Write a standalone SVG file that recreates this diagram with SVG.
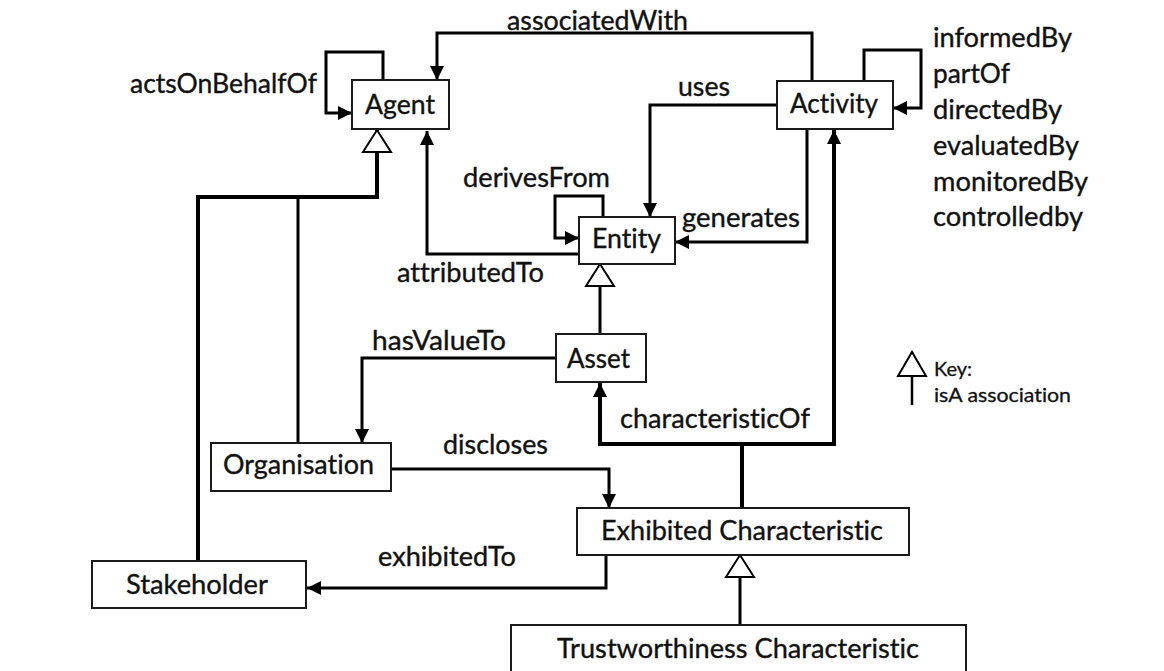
<svg xmlns="http://www.w3.org/2000/svg" width="1164" height="671" viewBox="0 0 1164 671">
<style>
  .box { fill: #ffffff; stroke: #1a1a1a; stroke-width: 2; }
  .t { font-family: "Lato", "Liberation Sans", sans-serif; font-size: 26px; fill: #111111; stroke: #111111; stroke-width: 0.35; font-variant-ligatures: none; }
  .k { font-family: "Lato", "Liberation Sans", sans-serif; font-size: 20px; fill: #111111; stroke: #111111; stroke-width: 0.3; font-variant-ligatures: none; }
  .c { fill: none; stroke: #000000; stroke-width: 3; stroke-linejoin: miter; }
  .thick { stroke-width: 4; }
  .arrow { marker-end: url(#ah); }
  .isa { marker-end: url(#tri); }
</style>
<defs>
  <marker id="ah" markerUnits="userSpaceOnUse" markerWidth="16" markerHeight="16" refX="14" refY="7" orient="auto">
    <path d="M0,0 L14,7 L0,14 z" fill="#000000"/>
  </marker>
  <marker id="tri" markerUnits="userSpaceOnUse" markerWidth="26" markerHeight="32" refX="22" refY="14" orient="auto" overflow="visible">
    <path d="M0,0 L22,14 L0,28 z" fill="#ffffff" stroke="#000000" stroke-width="2"/>
  </marker>
  <marker id="trik" markerUnits="userSpaceOnUse" markerWidth="26" markerHeight="32" refX="24" refY="14" orient="auto" overflow="visible">
    <path d="M0,0 L24,14 L0,28 z" fill="#ffffff" stroke="#000000" stroke-width="2"/>
  </marker>
</defs>
<rect width="1164" height="671" fill="#ffffff"/>

<g id="connectors">
  <!-- associatedWith -->
  <path class="c arrow" d="M812,81 V33 H437 V80"/>
  <!-- actsOnBehalfOf -->
  <path class="c arrow" d="M383,80 V52 H326 V113 H352"/>
  <!-- Activity self loop -->
  <path class="c arrow" d="M864,81 V50 H921 V108 H893"/>
  <!-- uses -->
  <path class="c arrow" d="M777,105 H650 V217"/>
  <!-- generates -->
  <path class="c arrow" d="M807,129 V242 H675"/>
  <!-- attributedTo -->
  <path class="c arrow" d="M579,254 H427 V131"/>
  <!-- derivesFrom -->
  <path class="c arrow" d="M603,217 V196 H555 V238 H579"/>
  <!-- hasValueTo -->
  <path class="c arrow" d="M556,358 H362 V443"/>
  <!-- discloses -->
  <path class="c arrow" d="M391,469 H609 V508"/>
  <!-- exhibitedTo -->
  <path class="c arrow" d="M606,555 V588 H307"/>
  <!-- characteristicOf -->
  <path class="c thick" d="M742,508 V444"/>
  <path class="c thick arrow" d="M742,444 H600 V383"/>
  <path class="c thick arrow" d="M742,444 H834 V130"/>
  <!-- isA: Asset -> Entity -->
  <path class="c isa" d="M600,334 V264"/>
  <!-- isA: Stakeholder, Organisation -> Agent -->
  <path class="c thick isa" d="M198,561 V197 H377 V130"/>
  <path class="c" d="M298,443 V197"/>
  <!-- isA: Trustworthiness -> Exhibited -->
  <path class="c isa" d="M740,625 V555"/>
</g>

<g id="labels">
  <text class="t" x="507" y="30" textLength="181" lengthAdjust="spacingAndGlyphs">associatedWith</text>
  <text class="t" x="130" y="93" textLength="187" lengthAdjust="spacingAndGlyphs">actsOnBehalfOf</text>
  <text class="t" x="678" y="96" textLength="52" lengthAdjust="spacingAndGlyphs">uses</text>
  <text class="t" x="463" y="187" textLength="147" lengthAdjust="spacingAndGlyphs">derivesFrom</text>
  <text class="t" x="682" y="227" textLength="118" lengthAdjust="spacingAndGlyphs">generates</text>
  <text class="t" x="397" y="282" textLength="147" lengthAdjust="spacingAndGlyphs">attributedTo</text>
  <text class="t" x="372" y="350" textLength="134" lengthAdjust="spacingAndGlyphs">hasValueTo</text>
  <text class="t" x="620" y="428" textLength="190" lengthAdjust="spacingAndGlyphs">characteristicOf</text>
  <text class="t" x="443" y="454" textLength="105" lengthAdjust="spacingAndGlyphs">discloses</text>
  <text class="t" x="378" y="566" textLength="138" lengthAdjust="spacingAndGlyphs">exhibitedTo</text>
  <text class="t" x="933" y="47" textLength="139" lengthAdjust="spacingAndGlyphs">informedBy</text>
  <text class="t" x="933" y="83" textLength="77" lengthAdjust="spacingAndGlyphs">partOf</text>
  <text class="t" x="933" y="119" textLength="129" lengthAdjust="spacingAndGlyphs">directedBy</text>
  <text class="t" x="933" y="155" textLength="146" lengthAdjust="spacingAndGlyphs">evaluatedBy</text>
  <text class="t" x="933" y="191" textLength="155" lengthAdjust="spacingAndGlyphs">monitoredBy</text>
  <text class="t" x="933" y="226" textLength="150" lengthAdjust="spacingAndGlyphs">controlledby</text>
</g>

<g id="node-agent">
  <rect class="box" x="352" y="80" width="97" height="49"/>
  <text class="t" x="365" y="114" textLength="70" lengthAdjust="spacingAndGlyphs">Agent</text>
</g>
<g id="node-activity">
  <rect class="box" x="777" y="81" width="116" height="48"/>
  <text class="t" x="790" y="113" textLength="88" lengthAdjust="spacingAndGlyphs">Activity</text>
</g>
<g id="node-entity">
  <rect class="box" x="579" y="217" width="96" height="47"/>
  <text class="t" x="592" y="248" textLength="69" lengthAdjust="spacingAndGlyphs">Entity</text>
</g>
<g id="node-asset">
  <rect class="box" x="556" y="334" width="90" height="48"/>
  <text class="t" x="567" y="368" textLength="63" lengthAdjust="spacingAndGlyphs">Asset</text>
</g>
<g id="node-organisation">
  <rect class="box" x="211" y="443" width="180" height="48"/>
  <text class="t" x="223" y="474" textLength="151" lengthAdjust="spacingAndGlyphs">Organisation</text>
</g>
<g id="node-exhibited">
  <rect class="box" x="577" y="508" width="332" height="47"/>
  <text class="t" x="601" y="540" textLength="282" lengthAdjust="spacingAndGlyphs">Exhibited Characteristic</text>
</g>
<g id="node-stakeholder">
  <rect class="box" x="92" y="561" width="214" height="47"/>
  <text class="t" x="126" y="594" textLength="142" lengthAdjust="spacingAndGlyphs">Stakeholder</text>
</g>
<g id="node-trustworthiness">
  <rect class="box" x="511" y="625" width="455" height="60"/>
  <text class="t" x="557" y="658" textLength="362" lengthAdjust="spacingAndGlyphs">Trustworthiness Characteristic</text>
</g>

<g id="key">
  <path d="M912,405 V352" fill="none" stroke="#000000" stroke-width="2.5" marker-end="url(#trik)"/>
  <text class="k" x="934" y="376">Key:</text>
  <text class="k" x="934" y="402" textLength="137" lengthAdjust="spacingAndGlyphs">isA association</text>
</g>
</svg>
